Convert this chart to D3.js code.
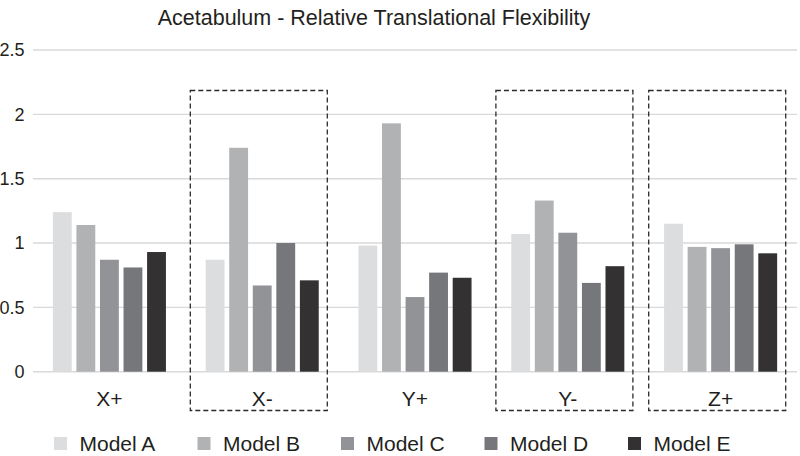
<!DOCTYPE html>
<html>
<head>
<meta charset="utf-8">
<script src="https://cdn.jsdelivr.net/npm/d3@7"></script>
<style>
  html, body { margin: 0; padding: 0; background: #fff; }
  svg { display: block; font-family: "Liberation Sans", Arial, Helvetica, sans-serif; }
</style>
</head>
<body>
<svg id="chart" width="800" height="456"></svg>
<script>
const title = "Acetabulum - Relative Translational Flexibility";
const categories = ["X+", "X-", "Y+", "Y-", "Z+"];
const models = ["Model A", "Model B", "Model C", "Model D", "Model E"];
const modelA = [1.24, 0.87, 0.98, 1.07, 1.15];
const modelB = [1.14, 1.74, 1.93, 1.33, 0.97];
const modelC = [0.87, 0.67, 0.58, 1.08, 0.96];
const modelD = [0.81, 1.00, 0.77, 0.69, 0.99];
const modelE = [0.93, 0.71, 0.73, 0.82, 0.92];
const seriesValues = [modelA, modelB, modelC, modelD, modelE];
const colors = ["#dcdddf", "#b1b2b4", "#929396", "#76777b", "#333132"];
const yTicks = [0, 0.5, 1, 1.5, 2, 2.5];
const boxedCategories = ["X-", "Y-", "Z+"];

const svg = d3.select("#chart");
const textColor = "#231f20";

const x0 = d3.scaleBand().domain(categories).range([33, 797]).paddingInner(0).paddingOuter(0);
const bw = x0.bandwidth();
const x1 = d3.scaleBand().domain(models).range([bw * 0.13, bw * 0.87]).paddingInner(0.2).paddingOuter(0);
const y = d3.scaleLinear().domain([0, 2.5]).range([371.7, 50]);
const color = d3.scaleOrdinal().domain(models).range(colors);

// gridlines
svg.append("g").selectAll("line").data(yTicks).join("line")
  .attr("x1", 33).attr("x2", 797)
  .attr("y1", d => y(d)).attr("y2", d => y(d))
  .attr("stroke", "#d9d9d9").attr("stroke-width", 1.4);

// y axis labels
const yAxis = d3.axisLeft(y).tickValues(yTicks).tickSize(0).tickPadding(0).tickFormat(d3.format("~g"));
const yg = svg.append("g").attr("transform", "translate(24.5,0)").call(yAxis);
yg.select(".domain").remove();
yg.selectAll("text").attr("font-size", 18).attr("fill", textColor)
  .attr("font-family", "'Liberation Sans', Arial, sans-serif");

// bars
const data = [];
categories.forEach((c, i) => {
  models.forEach((m, j) => data.push({ cat: c, model: m, value: seriesValues[j][i] }));
});
svg.append("g").selectAll("rect").data(data).join("rect")
  .attr("x", d => x0(d.cat) + x1(d.model))
  .attr("width", x1.bandwidth())
  .attr("y", d => y(d.value))
  .attr("height", d => y(0) - y(d.value))
  .attr("fill", d => color(d.model));

// category labels
const xAxis = d3.axisBottom(x0).tickSize(0).tickPadding(0);
const xg = svg.append("g").attr("transform", "translate(0,406)").call(xAxis);
xg.select(".domain").remove();
xg.selectAll("text").attr("font-size", 21).attr("fill", textColor).attr("dy", 0)
  .attr("font-family", "'Liberation Sans', Arial, sans-serif");

// dashed boxes
svg.append("g").selectAll("rect").data(boxedCategories).join("rect")
  .attr("x", d => x0(d) + 4.5)
  .attr("width", 137)
  .attr("y", 90.5)
  .attr("height", 320)
  .attr("fill", "none")
  .attr("stroke", "#2b2b2b")
  .attr("stroke-width", 1.3)
  .attr("stroke-dasharray", "5,3");

// title
svg.append("text").attr("x", 374).attr("y", 25).attr("text-anchor", "middle")
  .attr("font-size", 21.5).attr("fill", textColor).text(title);

// legend
const lg = svg.append("g").selectAll("g").data(models).join("g")
  .attr("transform", (d, i) => `translate(${54 + i * 143.5},0)`);
lg.append("rect").attr("x", 0).attr("y", 437).attr("width", 13).attr("height", 13)
  .attr("fill", d => color(d));
lg.append("text").attr("x", 25.5).attr("y", 451).attr("font-size", 21)
  .attr("fill", textColor).text(d => d);
</script>
</body>
</html>
